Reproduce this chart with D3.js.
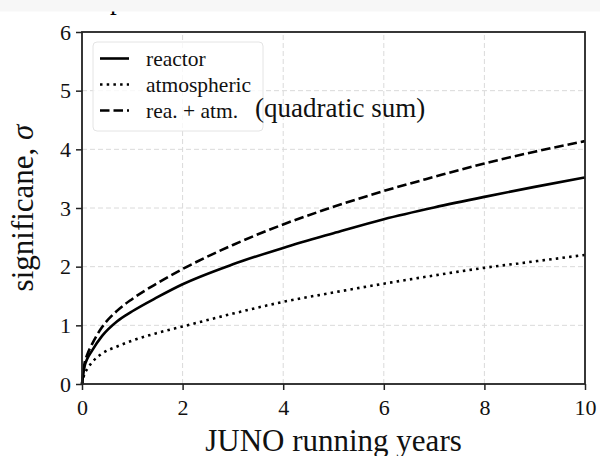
<!DOCTYPE html>
<html>
<head>
<meta charset="utf-8">
<script src="https://cdn.jsdelivr.net/npm/d3@7"></script>
<style>
  html, body { margin: 0; padding: 0; background: #fff; }
  svg { display: block; }
</style>
</head>
<body>
<div id="chart"></div>
<script>
// values
const years = [0, 0.05, 0.1, 0.2, 0.4, 0.7, 1, 1.5, 2, 3, 4, 5, 6, 7, 8, 9, 10];
const reactor = [0, 0.30, 0.42, 0.57, 0.82, 1.07, 1.24, 1.48, 1.70, 2.04, 2.32, 2.57, 2.81, 3.01, 3.19, 3.36, 3.52];
const atmospheric = [0, 0.18, 0.25, 0.37, 0.52, 0.64, 0.74, 0.87, 0.98, 1.20, 1.40, 1.56, 1.71, 1.85, 1.98, 2.09, 2.20];
const combined = [0, 0.35, 0.49, 0.68, 0.97, 1.25, 1.45, 1.72, 1.96, 2.37, 2.72, 3.02, 3.29, 3.53, 3.76, 3.96, 4.14];
const seriesNames = ['reactor', 'atmospheric', 'rea. + atm.'];
const xTicks = [0, 2, 4, 6, 8, 10];
const yTicks = [0, 1, 2, 3, 4, 5, 6];

const W = 600, H = 456;
const serif = '"Liberation Serif", "DejaVu Serif", serif';
const margin = { top: 32, right: 15, bottom: 72, left: 82 };

const svg = d3.select('#chart').append('svg')
  .attr('width', W)
  .attr('height', H);

const x = d3.scaleLinear().domain([0, 10]).range([margin.left, W - margin.right]);
const y = d3.scaleLinear().domain([0, 6]).range([H - margin.bottom, margin.top]);

// cut-off title remnant + grey strip at the top
svg.append('text')
  .attr('x', 110).attr('y', 9)
  .style('font-family', serif).style('font-size', '27px')
  .text('p');
svg.append('rect')
  .attr('x', 0).attr('y', 0).attr('width', W).attr('height', 11.5)
  .attr('fill', '#f7f7f7');

// grid
const grid = svg.append('g').attr('stroke', '#dadada').attr('stroke-width', 1)
  .attr('stroke-dasharray', '5,3');
grid.selectAll('.gx').data(xTicks.slice(1, -1)).enter().append('line')
  .attr('x1', d => x(d)).attr('x2', d => x(d))
  .attr('y1', y(0)).attr('y2', y(6));
grid.selectAll('.gy').data(yTicks.slice(1, -1)).enter().append('line')
  .attr('x1', x(0)).attr('x2', x(10))
  .attr('y1', d => y(d)).attr('y2', d => y(d));

// curves
const series = [
  { name: seriesNames[0], values: reactor, dash: null },
  { name: seriesNames[1], values: atmospheric, dash: '2.5,4.2' },
  { name: seriesNames[2], values: combined, dash: '9.5,4' }
];

const line = d3.line()
  .x((d, i) => x(years[i]))
  .y(d => y(d))
  .curve(d3.curveMonotoneX);

svg.append('g').selectAll('path')
  .data(series)
  .enter()
  .append('path')
  .attr('d', d => line(d.values))
  .attr('fill', 'none')
  .attr('stroke', '#000')
  .attr('stroke-width', 2.6)
  .attr('stroke-dasharray', d => d.dash);

// axes
const xAxis = svg.append('g')
  .attr('transform', `translate(0,${y(0)})`)
  .call(d3.axisBottom(x).tickValues(xTicks).tickSize(6).tickPadding(9.5).tickFormat(d3.format('d')));
const yAxis = svg.append('g')
  .attr('transform', `translate(${x(0)},0)`)
  .call(d3.axisLeft(y).tickValues(yTicks).tickSize(6).tickPadding(5).tickFormat(d3.format('d')));

[xAxis, yAxis].forEach(a => {
  a.select('.domain').remove();
  a.selectAll('.tick line').attr('stroke', '#222').attr('stroke-width', 1.5);
  a.selectAll('text')
    .attr('fill', '#111')
    .style('font-family', serif)
    .style('font-size', '22px');
});

// frame
svg.append('rect')
  .attr('x', x(0)).attr('y', y(6))
  .attr('width', x(10) - x(0)).attr('height', y(0) - y(6))
  .attr('fill', 'none')
  .attr('stroke', '#222')
  .attr('stroke-width', 1.8);

// legend
const legend = svg.append('g');
legend.append('rect')
  .attr('x', 93).attr('y', 42).attr('width', 170).attr('height', 89)
  .attr('rx', 4)
  .attr('fill', '#fff').attr('fill-opacity', 0.8)
  .attr('stroke', '#e4e4e4').attr('stroke-width', 1);

const rows = legend.selectAll('.row')
  .data(series)
  .enter()
  .append('g')
  .attr('transform', (d, i) => `translate(0,${66 + i * 26})`);
rows.append('line')
  .attr('x1', 100).attr('x2', 129)
  .attr('y1', -7.5).attr('y2', -7.5)
  .attr('stroke', '#000').attr('stroke-width', 2.6)
  .attr('stroke-dasharray', d => d.dash);
rows.append('text')
  .attr('x', 146).attr('y', 0)
  .style('font-family', serif).style('font-size', '21.5px')
  .attr('fill', '#111')
  .text(d => d.name);

svg.append('text')
  .attr('x', 255).attr('y', 117)
  .style('font-family', serif).style('font-size', '27px')
  .attr('fill', '#111')
  .text('(quadratic sum)');

// axis titles
svg.append('text')
  .attr('x', (x(0) + x(10)) / 2).attr('y', 451)
  .attr('text-anchor', 'middle')
  .style('font-family', serif).style('font-size', '31px')
  .attr('fill', '#111')
  .text('JUNO running years');

const yl = svg.append('text')
  .attr('transform', `translate(33,${(y(0) + y(6)) / 2}) rotate(-90)`)
  .attr('text-anchor', 'middle')
  .style('font-family', serif).style('font-size', '31px')
  .attr('fill', '#111');
yl.append('tspan').text('significane, ');
yl.append('tspan').style('font-style', 'italic').text('σ');
</script>
</body>
</html>
